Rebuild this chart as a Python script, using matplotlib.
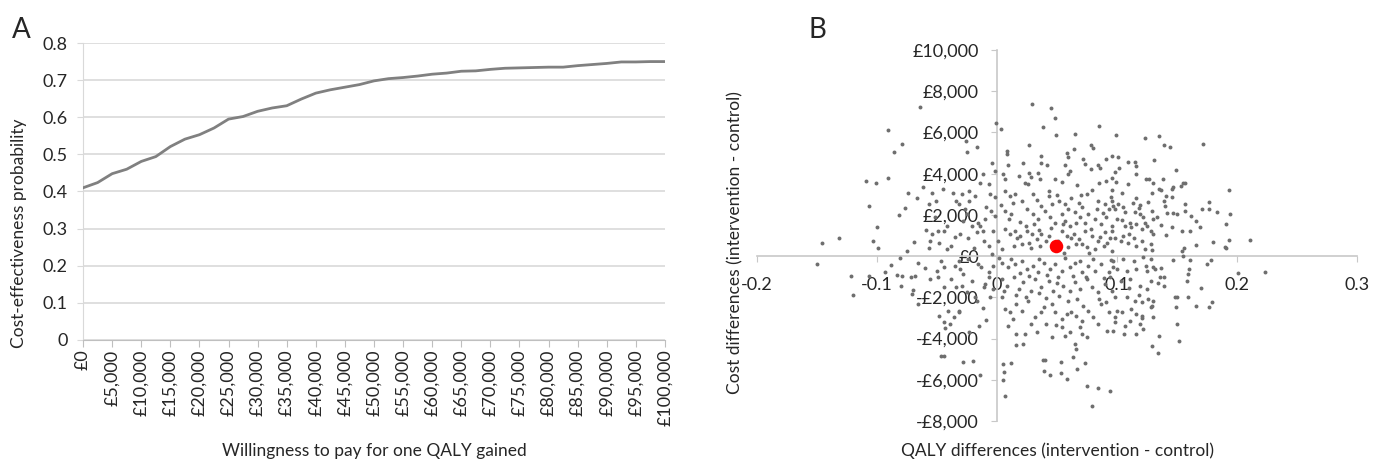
import numpy as np
import matplotlib
matplotlib.use('Agg')
import matplotlib.pyplot as plt

plt.rcParams['font.family'] = ['Lato', 'DejaVu Sans']
TXT = '#262626'

########## Data ################################
# Panel A: cost-effectiveness acceptability curve
wtp = [0, 2500, 5000, 7500, 10000, 12500, 15000, 17500, 20000, 22500, 25000,
       27500, 30000, 32500, 35000, 37500, 40000, 42500, 45000, 47500, 50000,
       52500, 55000, 57500, 60000, 62500, 65000, 67500, 70000, 72500, 75000,
       77500, 80000, 82500, 85000, 87500, 90000, 92500, 95000, 97500, 100000]
prob = [0.410, 0.424, 0.448, 0.460, 0.481, 0.494, 0.521, 0.541, 0.553, 0.571, 0.595,
        0.602, 0.616, 0.625, 0.631, 0.649, 0.665, 0.674, 0.681, 0.688, 0.698,
        0.704, 0.707, 0.711, 0.716, 0.719, 0.724, 0.725, 0.729, 0.732, 0.733,
        0.734, 0.735, 0.735, 0.739, 0.742, 0.745, 0.749, 0.749, 0.750, 0.750]
wtp_ticks = list(range(0, 100001, 5000))
wtp_labels = ['£{:,}'.format(v) for v in wtp_ticks]
prob_ticks = [0, 0.1, 0.2, 0.3, 0.4, 0.5, 0.6, 0.7, 0.8]
prob_labels = ['0', '0.1', '0.2', '0.3', '0.4', '0.5', '0.6', '0.7', '0.8']

upper_left = [(-0.064, 7240), (-0.091, 6110), (-0.079, 5420), (-0.086, 5040), (-0.109, 3650),
              (-0.101, 3560), (-0.091, 3780), (-0.074, 3070), (-0.062, 3330), (-0.067, 2800),
              (-0.077, 2330), (-0.082, 2000), (-0.107, 2440), (-0.100, 1420), (-0.146, 660),
              (-0.132, 870), (-0.103, 740), (-0.099, 370), (-0.075, 230), (-0.069, 700),
              (-0.056, 740), (-0.054, 3060), (-0.045, 3250), (-0.057, 2520), (-0.051, 2680),
              (-0.037, 3040), (-0.034, 2680), (-0.059, 1260), (-0.054, 1070), (-0.049, 1200),
              (-0.044, 1230), (-0.048, 620), (-0.042, 330), (-0.038, 500), (-0.035, 940),
              (-0.025, 5030), (-0.017, 5270), (-0.026, 5580), (-0.042, 1470), (-0.014, 1470),
              (-0.003, 1230), (-0.025, 2050), (-0.019, 380), (-0.012, 1200), (-0.004, 100),
              (-0.052, 1900), (-0.057, 380)]
lower_left = [(-0.150, -390), (-0.122, -970), (-0.120, -1880), (-0.107, -970), (-0.093, -790),
              (-0.088, -420), (-0.081, -100), (-0.083, -900), (-0.079, -970), (-0.072, -1030),
              (-0.068, -970), (-0.066, -350), (-0.080, -1470), (-0.071, -1840), (-0.070, -1650),
              (-0.066, -2330), (-0.056, -1130), (-0.049, -1030), (-0.050, -710), (-0.044, -1490),
              (-0.038, -1130), (-0.034, -1490), (-0.048, -2910), (-0.044, -3220), (-0.043, -3490),
              (-0.039, -3300), (-0.036, -2970), (-0.047, -4860), (-0.044, -4830), (-0.047, -230),
              (-0.044, -520), (-0.035, -470), (-0.032, -260), (-0.041, -2650), (-0.032, -2650),
              (-0.023, -3700), (-0.015, -3380), (-0.009, -3090), (-0.028, -5160), (-0.020, -5080),
              (-0.014, -5770), (-0.031, -630), (-0.028, -870), (-0.013, -550), (-0.007, -790),
              (-0.029, -1440), (-0.017, -2170), (-0.032, -2730), (-0.007, -1030), (-0.011, -1520),
              (-0.006, -2000), (-0.018, -2000), (-0.024, -160), (-0.016, -360), (-0.003, -480),
              (-0.021, -1200), (-0.010, -1350), (-0.003, -1600), (-0.025, -1760), (-0.012, -2500),
              (-0.060, -560)]
upper_mid = [(0.029, 7400), (0.045, 7210), (0.048, 6690), (-0.001, 6480), (0.003, 6170),
             (0.038, 6270), (0.049, 5880), (0.065, 5920), (0.085, 6300), (0.027, 5400),
             (0.064, 5190), (0.078, 5400), (0.080, 5240), (0.008, 5110), (0.008, 4950),
             (0.037, 4880), (0.058, 5010), (0.059, 4790), (0.096, 4850), (0.009, 4430),
             (0.022, 4500), (0.037, 4500), (0.042, 4400), (0.057, 4430), (0.072, 4690),
             (0.073, 4460), (0.084, 4430), (0.086, 4270), (0.091, 4690), (-0.004, 4540),
             (-0.012, 3980), (-0.002, 4110), (0.005, 3980), (0.007, 3730), (0.018, 3910),
             (0.027, 4040), (0.028, 3850), (0.034, 4040), (0.036, 3720), (0.023, 3530),
             (0.026, 3490), (0.048, 3750), (0.054, 3620), (0.059, 3980), (0.061, 4110),
             (0.078, 4220), (0.067, 3430), (0.085, 3530), (0.091, 3650), (0.096, 3770),
             (-0.029, 3010), (-0.023, 3170), (-0.018, 2920), (-0.014, 3530), (-0.007, 3490),
             (-0.006, 3010), (-0.002, 2850), (0.007, 3170), (0.011, 2920), (0.015, 3010),
             (0.021, 2680), (0.030, 3010), (0.033, 2720), (0.043, 3170), (0.043, 2920),
             (0.046, 2520), (0.052, 2680), (0.057, 2520), (0.059, 2280), (0.068, 2600),
             (0.071, 2360), (0.075, 3010), (0.079, 3200), (0.084, 2680), (0.090, 2520),
             (0.095, 2850), (-0.032, 2520), (-0.027, 2280), (-0.023, 2680), (-0.009, 2360),
             (-0.005, 2200), (-0.002, 1950), (0.007, 2200), (0.012, 2040), (0.025, 2280),
             (0.030, 2040), (0.034, 1790), (0.040, 2200), (0.044, 1910), (0.048, 1630),
             (0.054, 2040), (0.057, 1710), (0.061, 1470), (0.065, 2120), (0.069, 1880),
             (0.073, 1630), (0.076, 2040), (0.082, 1790), (0.087, 1550), (0.091, 1880),
             (0.096, 1470), (-0.028, 1710), (-0.021, 1470), (-0.016, 1630), (-0.010, 1790)]
near_zero_up = [(0.007, 1310), (0.011, 1070), (0.015, 1230), (0.019, 990), (0.025, 1230),
                (0.029, 1070), (0.033, 820), (0.037, 1070), (0.041, 740), (0.054, 1230),
                (0.058, 990), (0.064, 1070), (0.068, 820), (0.073, 1230), (0.079, 990),
                (0.084, 740), (0.090, 1150), (0.094, 900), (-0.031, 1070), (-0.024, 900),
                (-0.017, 1150), (-0.011, 740), (-0.007, 500), (0.001, 740), (0.004, 340),
                (0.014, 500), (0.021, 580), (0.028, 390), (0.036, 500), (0.059, 420),
                (0.066, 580), (0.075, 420), (0.082, 340), (0.089, 500), (0.096, 260),
                (0.003, 2480), (0.013, 2560), (0.019, 1650), (0.024, 1480), (0.031, 1560),
                (0.037, 2430), (0.045, 1380), (0.050, 2950), (0.055, 1560), (0.062, 2830),
                (0.066, 1610), (0.070, 2960), (0.078, 1330), (0.083, 2280), (0.088, 2070),
                (0.093, 2280), (0.010, 1820), (0.017, 860), (0.027, 640), (0.035, 1290),
                (0.043, 960), (0.051, 720), (0.056, 160), (0.062, 870), (0.071, 610),
                (0.077, 160), (0.086, 920), (0.092, 640)]
upper_right = [(0.099, 5880), (0.123, 5710), (0.135, 5820), (0.139, 5380), (0.144, 5300),
               (0.172, 5450), (0.101, 4800), (0.109, 4590), (0.115, 4570), (0.116, 4350),
               (0.131, 4640), (0.098, 4070), (0.102, 4270), (0.116, 3960), (0.149, 4180),
               (0.099, 3600), (0.109, 3490), (0.124, 3750), (0.127, 3750), (0.130, 3530),
               (0.138, 3720), (0.135, 3280), (0.137, 3200), (0.146, 3250), (0.147, 3360),
               (0.153, 3410), (0.155, 3530), (0.157, 3570), (0.193, 3190), (0.129, 3070),
               (0.096, 3190), (0.141, 2900), (0.146, 2850), (0.116, 2800), (0.113, 2600),
               (0.119, 2490), (0.139, 2650), (0.157, 2520), (0.177, 2630), (0.171, 2280),
               (0.177, 2280), (0.183, 2120), (0.194, 2040), (0.096, 2650), (0.097, 2440),
               (0.098, 2280), (0.101, 2520), (0.105, 2360), (0.107, 2120), (0.115, 2120),
               (0.119, 2040), (0.122, 1880), (0.123, 1630), (0.129, 2200), (0.130, 1790),
               (0.142, 2090), (0.147, 2100), (0.150, 2040), (0.157, 2200), (0.162, 1950),
               (0.166, 1710), (0.169, 1390), (0.161, 1230), (0.154, 1230), (0.146, 1420),
               (0.137, 1500), (0.191, 1550), (0.100, 1790), (0.104, 1750), (0.107, 1470),
               (0.111, 1630), (0.112, 1390), (0.116, 1550), (0.121, 1310), (0.125, 1470),
               (0.128, 1230), (0.130, 1070), (0.141, 1030), (0.180, 690), (0.193, 790),
               (0.211, 790), (0.166, 550), (0.190, 450), (0.191, 370), (0.156, 390),
               (0.154, 260), (0.096, 1230), (0.098, 900), (0.103, 740), (0.105, 990),
               (0.109, 660), (0.114, 900), (0.116, 500), (0.121, 740), (0.123, 340),
               (0.128, 580), (0.129, 290), (0.104, 3070), (0.110, 1060), (0.118, 2330),
               (0.126, 2620), (0.133, 1920), (0.140, 2420)]
lower_mid = [(0.004, -310), (0.009, -550), (0.015, -390), (0.021, -230), (0.025, -630),
             (0.030, -470), (0.034, -790), (0.039, -310), (0.044, -630), (0.048, -390),
             (0.054, -710), (0.061, -550), (0.065, -310), (0.071, -790), (0.076, -470),
             (0.082, -710), (0.087, -390), (0.093, -790), (0.097, -550), (0.004, -1120),
             (0.008, -1440), (0.014, -1030), (0.018, -1600), (0.022, -1280), (0.028, -1680),
             (0.032, -1120), (0.037, -1520), (0.043, -1200), (0.047, -1680), (0.051, -1030),
             (0.055, -1440), (0.061, -1680), (0.065, -1280), (0.069, -1600), (0.075, -1120),
             (0.079, -1520), (0.084, -1760), (0.090, -1360), (0.096, -1680), (0.004, -2000),
             (0.007, -2570), (0.011, -2730), (0.016, -2330), (0.021, -2650), (0.026, -2170),
             (0.032, -2970), (0.039, -2490), (0.046, -2330), (0.048, -2730), (0.054, -3060),
             (0.058, -2810), (0.062, -2730), (0.066, -2900), (0.071, -3140), (0.076, -2650),
             (0.080, -2970), (0.087, -2330), (0.093, -2730), (0.098, -2970), (0.009, -3380),
             (0.016, -3780), (0.023, -3780), (0.033, -3700), (0.041, -3300), (0.046, -3940),
             (0.054, -3460), (0.057, -3860), (0.061, -3700), (0.065, -4270), (0.071, -3780),
             (0.075, -3940), (0.066, -4510), (0.016, -4300), (0.022, -4240), (0.005, -5240),
             (0.012, -5190), (0.006, -5640), (0.005, -6010), (0.007, -6790), (0.038, -5040),
             (0.040, -5040), (0.039, -5560), (0.044, -5760), (0.053, -5160), (0.053, -5660),
             (0.058, -5980), (0.063, -4910), (0.067, -5500), (0.073, -5190), (0.075, -6320),
             (0.084, -6400), (0.094, -6550), (0.079, -7260), (0.002, -90), (0.012, -140),
             (0.019, -820), (0.027, -960), (0.035, -160), (0.042, -930), (0.050, -1310),
             (0.057, -110), (0.063, -960), (0.069, -240), (0.074, -1000), (0.080, -140),
             (0.089, -1050), (0.095, -180), (0.006, -1700), (0.016, -1870), (0.024, -1960),
             (0.035, -1810), (0.041, -2040), (0.052, -1920), (0.059, -2200), (0.067, -2060),
             (0.072, -2400), (0.085, -2060), (0.091, -2210), (0.013, -3050), (0.028, -3280),
             (0.037, -2720), (0.049, -3320), (0.069, -3420), (0.084, -3300), (0.092, -3640)]
lower_right = [(0.147, -180), (0.155, 20), (0.161, -180), (0.175, -390), (0.178, -180),
               (0.201, -820), (0.223, -760), (0.137, -580), (0.132, -630), (0.136, -1030),
               (0.139, -1030), (0.139, -1440), (0.160, -630), (0.159, -870), (0.158, -1200),
               (0.170, -1550), (0.148, -1970), (0.150, -1970), (0.159, -2000), (0.149, -2490),
               (0.166, -2440), (0.177, -2460), (0.179, -2220), (0.150, -3300), (0.135, -3890),
               (0.152, -4110), (0.129, -4350), (0.134, -4720), (0.097, -230), (0.105, -150),
               (0.114, -230), (0.122, -60), (0.128, -150), (0.100, -630), (0.108, -710),
               (0.116, -630), (0.125, -710), (0.130, -550), (0.094, -1030), (0.103, -1200),
               (0.111, -1120), (0.119, -1440), (0.125, -1600), (0.128, -1200), (0.098, -2000),
               (0.108, -2000), (0.115, -2170), (0.121, -2250), (0.126, -2090), (0.129, -2410),
               (0.130, -2170), (0.100, -2650), (0.104, -2730), (0.116, -2810), (0.121, -2900),
               (0.121, -3010), (0.130, -2970), (0.098, -3220), (0.097, -3620), (0.107, -3380),
               (0.106, -3780), (0.111, -3140), (0.116, -3780), (0.122, -3540), (0.128, -2490),
               (0.110, -1560), (0.118, -1880), (0.124, -470), (0.134, -1310), (0.112, -2560),
               (0.119, -3310)]
mean_point = (0.049, 480)

qaly_ticks = [-0.2, -0.1, 0, 0.1, 0.2, 0.3]
qaly_labels = ['-0.2', '-0.1', '0', '0.1', '0.2', '0.3']
cost_ticks = list(range(-8000, 10001, 2000))
cost_labels = [('-£{:,}' if v < 0 else '£{:,}').format(abs(v)) for v in cost_ticks]

########## Plot ################################
fig = plt.figure(figsize=(13.73, 4.63), dpi=100)

# --- A ---
axA = fig.add_axes([0.0605, 0.2657, 0.4238, 0.6414])
axA.plot(wtp, prob, color='#808080', lw=2.0, zorder=3)
axA.set_xlim(0, 100000)
axA.set_ylim(0, 0.8)
axA.set_yticks(prob_ticks)
axA.set_yticklabels(prob_labels)
axA.set_xticks(wtp_ticks)
axA.set_xticklabels(wtp_labels, rotation=90)
axA.yaxis.grid(True, color='#d9d9d9', lw=1.2)
axA.set_axisbelow(True)
for s in ['top', 'right']:
    axA.spines[s].set_visible(False)
axA.spines['left'].set_color('#d9d9d9')
axA.spines['bottom'].set_color('#bfbfbf')
axA.tick_params(axis='x', length=5, color='#bfbfbf', pad=2, labelsize=13, labelcolor=TXT)
axA.tick_params(axis='y', length=4, color='#d9d9d9', pad=7, labelsize=13, labelcolor=TXT)
axA.set_xlabel('Willingness to pay for one QALY gained', fontsize=12.5, color=TXT)
axA.xaxis.set_label_coords(0.5, -0.347)
axA.set_ylabel('Cost-effectiveness probability', fontsize=12.5, color=TXT)
axA.yaxis.set_label_coords(-0.096, 0.36)

# --- B ---
axB = fig.add_axes([0.5514, 0.0907, 0.437, 0.8013])
pts = np.array(upper_left + lower_left + upper_mid + near_zero_up
               + upper_right + lower_mid + lower_right)
axB.scatter(pts[:, 0], pts[:, 1], s=8, color='#6e6e6e', linewidths=0, zorder=3)
axB.scatter([mean_point[0]], [mean_point[1]], s=95, color='#ff0000', linewidths=0, zorder=4)
axB.set_xlim(-0.2, 0.3)
axB.set_ylim(-8000, 10000)
axB.set_xticks(qaly_ticks)
axB.set_xticklabels(qaly_labels)
axB.set_yticks(cost_ticks)
axB.set_yticklabels(cost_labels)
for s in ['top', 'right']:
    axB.spines[s].set_visible(False)
axB.spines['left'].set_position(('data', 0))
axB.spines['bottom'].set_position(('data', 0))
axB.spines['left'].set_color('#c8c8c8')
axB.spines['bottom'].set_color('#c8c8c8')
axB.spines['left'].set_linewidth(1.2)
axB.spines['bottom'].set_linewidth(1.2)
axB.tick_params(axis='x', length=4, color='#c8c8c8', pad=11, labelsize=13, labelcolor=TXT)
axB.tick_params(axis='y', length=4, color='#c8c8c8', pad=9, labelsize=13, labelcolor=TXT)
axB.set_xlabel('QALY differences (intervention - control)', fontsize=12.5, color=TXT)
axB.xaxis.set_label_coords(0.5, -0.059)
axB.set_ylabel('Cost differences (intervention - control)', fontsize=12.5, color=TXT)
axB.yaxis.set_label_coords(-0.022, 0.482)

fig.text(0.0087, 0.918, 'A', fontsize=20, color=TXT, va='baseline')
fig.text(0.5885, 0.918, 'B', fontsize=20, color=TXT, va='baseline')

plt.savefig('out.png', dpi=100)
